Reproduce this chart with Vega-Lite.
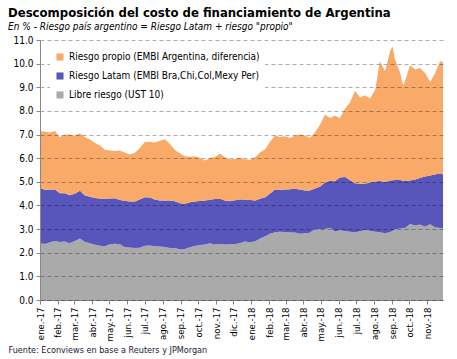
{
"$schema": "https://vega.github.io/schema/vega-lite/v6.json",
"width": 403, "height": 260,
"autosize": {"type": "none"},
"padding": {"left": 40, "top": 40, "right": 14, "bottom": 59},
"background": "white",
"title": {"text": "Descomposición del costo de financiamiento  de Argentina", "subtitle": "En % - Riesgo país argentino = Riesgo Latam + riesgo \"propio\"", "anchor": "start", "frame": "bounds", "font": "DejaVu Sans Condensed, DejaVu Sans", "fontSize": 13, "fontWeight": "bold", "color": "#000", "subtitleFont": "DejaVu Sans Condensed, DejaVu Sans", "subtitleFontSize": 10, "subtitleFontStyle": "italic", "subtitleColor": "#000", "subtitlePadding": 2, "offset": 3},
"data": {"values": [
{"fecha":"2017-01-01","libre_riesgo":2.40,"riesgo_latam":2.34,"riesgo_propio":2.41},
{"fecha":"2017-01-10","libre_riesgo":2.37,"riesgo_latam":2.28,"riesgo_propio":2.47},
{"fecha":"2017-01-18","libre_riesgo":2.44,"riesgo_latam":2.22,"riesgo_propio":2.43},
{"fecha":"2017-01-27","libre_riesgo":2.50,"riesgo_latam":2.17,"riesgo_propio":2.48},
{"fecha":"2017-02-04","libre_riesgo":2.45,"riesgo_latam":2.07,"riesgo_propio":2.37},
{"fecha":"2017-02-13","libre_riesgo":2.47,"riesgo_latam":2.05,"riesgo_propio":2.48},
{"fecha":"2017-02-21","libre_riesgo":2.40,"riesgo_latam":2.03,"riesgo_propio":2.57},
{"fecha":"2017-03-02","libre_riesgo":2.50,"riesgo_latam":2.00,"riesgo_propio":2.45},
{"fecha":"2017-03-11","libre_riesgo":2.60,"riesgo_latam":2.02,"riesgo_propio":2.44},
{"fecha":"2017-03-19","libre_riesgo":2.46,"riesgo_latam":1.97,"riesgo_propio":2.47},
{"fecha":"2017-03-28","libre_riesgo":2.40,"riesgo_latam":1.97,"riesgo_propio":2.43},
{"fecha":"2017-04-06","libre_riesgo":2.34,"riesgo_latam":1.98,"riesgo_propio":2.32},
{"fecha":"2017-04-14","libre_riesgo":2.29,"riesgo_latam":2.00,"riesgo_propio":2.26},
{"fecha":"2017-04-23","libre_riesgo":2.27,"riesgo_latam":2.01,"riesgo_propio":2.08},
{"fecha":"2017-05-02","libre_riesgo":2.36,"riesgo_latam":1.93,"riesgo_propio":2.03},
{"fecha":"2017-05-10","libre_riesgo":2.38,"riesgo_latam":1.93,"riesgo_propio":1.99},
{"fecha":"2017-05-19","libre_riesgo":2.36,"riesgo_latam":1.87,"riesgo_propio":2.10},
{"fecha":"2017-05-27","libre_riesgo":2.24,"riesgo_latam":1.96,"riesgo_propio":2.04},
{"fecha":"2017-06-05","libre_riesgo":2.22,"riesgo_latam":1.95,"riesgo_propio":1.99},
{"fecha":"2017-06-14","libre_riesgo":2.20,"riesgo_latam":1.97,"riesgo_propio":2.06},
{"fecha":"2017-06-22","libre_riesgo":2.21,"riesgo_latam":2.04,"riesgo_propio":2.17},
{"fecha":"2017-07-01","libre_riesgo":2.30,"riesgo_latam":2.05,"riesgo_propio":2.33},
{"fecha":"2017-07-10","libre_riesgo":2.31,"riesgo_latam":2.03,"riesgo_propio":2.36},
{"fecha":"2017-07-18","libre_riesgo":2.27,"riesgo_latam":1.98,"riesgo_propio":2.41},
{"fecha":"2017-07-27","libre_riesgo":2.26,"riesgo_latam":1.95,"riesgo_propio":2.53},
{"fecha":"2017-08-05","libre_riesgo":2.24,"riesgo_latam":1.97,"riesgo_propio":2.59},
{"fecha":"2017-08-13","libre_riesgo":2.20,"riesgo_latam":2.01,"riesgo_propio":2.40},
{"fecha":"2017-08-22","libre_riesgo":2.20,"riesgo_latam":1.98,"riesgo_propio":2.17},
{"fecha":"2017-08-31","libre_riesgo":2.14,"riesgo_latam":1.95,"riesgo_propio":2.11},
{"fecha":"2017-09-08","libre_riesgo":2.16,"riesgo_latam":1.91,"riesgo_propio":2.01},
{"fecha":"2017-09-17","libre_riesgo":2.23,"riesgo_latam":1.91,"riesgo_propio":1.92},
{"fecha":"2017-09-25","libre_riesgo":2.28,"riesgo_latam":1.89,"riesgo_propio":1.91},
{"fecha":"2017-10-04","libre_riesgo":2.33,"riesgo_latam":1.86,"riesgo_propio":1.83},
{"fecha":"2017-10-13","libre_riesgo":2.35,"riesgo_latam":1.86,"riesgo_propio":1.69},
{"fecha":"2017-10-21","libre_riesgo":2.40,"riesgo_latam":1.84,"riesgo_propio":1.76},
{"fecha":"2017-10-30","libre_riesgo":2.35,"riesgo_latam":1.92,"riesgo_propio":1.78},
{"fecha":"2017-11-08","libre_riesgo":2.37,"riesgo_latam":1.91,"riesgo_propio":1.92},
{"fecha":"2017-11-16","libre_riesgo":2.35,"riesgo_latam":1.86,"riesgo_propio":1.83},
{"fecha":"2017-11-25","libre_riesgo":2.36,"riesgo_latam":1.82,"riesgo_propio":1.78},
{"fecha":"2017-12-04","libre_riesgo":2.37,"riesgo_latam":1.85,"riesgo_propio":1.75},
{"fecha":"2017-12-12","libre_riesgo":2.40,"riesgo_latam":1.85,"riesgo_propio":1.77},
{"fecha":"2017-12-21","libre_riesgo":2.48,"riesgo_latam":1.77,"riesgo_propio":1.71},
{"fecha":"2017-12-30","libre_riesgo":2.44,"riesgo_latam":1.79,"riesgo_propio":1.70},
{"fecha":"2018-01-08","libre_riesgo":2.49,"riesgo_latam":1.72,"riesgo_propio":1.84},
{"fecha":"2018-01-16","libre_riesgo":2.60,"riesgo_latam":1.68,"riesgo_propio":1.96},
{"fecha":"2018-01-25","libre_riesgo":2.70,"riesgo_latam":1.65,"riesgo_propio":2.03},
{"fecha":"2018-02-02","libre_riesgo":2.80,"riesgo_latam":1.70,"riesgo_propio":2.18},
{"fecha":"2018-02-11","libre_riesgo":2.87,"riesgo_latam":1.81,"riesgo_propio":2.29},
{"fecha":"2018-02-19","libre_riesgo":2.89,"riesgo_latam":1.77,"riesgo_propio":2.24},
{"fecha":"2018-02-28","libre_riesgo":2.88,"riesgo_latam":1.79,"riesgo_propio":2.26},
{"fecha":"2018-03-09","libre_riesgo":2.86,"riesgo_latam":1.83,"riesgo_propio":2.16},
{"fecha":"2018-03-17","libre_riesgo":2.86,"riesgo_latam":1.85,"riesgo_propio":2.25},
{"fecha":"2018-03-26","libre_riesgo":2.80,"riesgo_latam":1.87,"riesgo_propio":2.33},
{"fecha":"2018-04-04","libre_riesgo":2.82,"riesgo_latam":1.81,"riesgo_propio":2.33},
{"fecha":"2018-04-12","libre_riesgo":2.85,"riesgo_latam":1.78,"riesgo_propio":2.22},
{"fecha":"2018-04-21","libre_riesgo":3.00,"riesgo_latam":1.72,"riesgo_propio":2.38},
{"fecha":"2018-04-30","libre_riesgo":2.98,"riesgo_latam":1.82,"riesgo_propio":2.62},
{"fecha":"2018-05-08","libre_riesgo":3.00,"riesgo_latam":1.97,"riesgo_propio":2.88},
{"fecha":"2018-05-17","libre_riesgo":3.06,"riesgo_latam":1.99,"riesgo_propio":2.65},
{"fecha":"2018-05-25","libre_riesgo":2.90,"riesgo_latam":2.12,"riesgo_propio":2.78},
{"fecha":"2018-06-03","libre_riesgo":2.95,"riesgo_latam":2.23,"riesgo_propio":2.52},
{"fecha":"2018-06-12","libre_riesgo":2.92,"riesgo_latam":2.28,"riesgo_propio":2.90},
{"fecha":"2018-06-20","libre_riesgo":2.89,"riesgo_latam":2.19,"riesgo_propio":3.27},
{"fecha":"2018-06-29","libre_riesgo":2.87,"riesgo_latam":2.07,"riesgo_propio":3.91},
{"fecha":"2018-07-08","libre_riesgo":2.91,"riesgo_latam":2.01,"riesgo_propio":3.64},
{"fecha":"2018-07-16","libre_riesgo":2.96,"riesgo_latam":1.96,"riesgo_propio":3.74},
{"fecha":"2018-07-25","libre_riesgo":2.93,"riesgo_latam":2.04,"riesgo_propio":3.55},
{"fecha":"2018-08-03","libre_riesgo":2.89,"riesgo_latam":2.12,"riesgo_propio":3.89},
{"fecha":"2018-08-11","libre_riesgo":2.87,"riesgo_latam":2.16,"riesgo_propio":5.07},
{"fecha":"2018-08-20","libre_riesgo":2.82,"riesgo_latam":2.17,"riesgo_propio":4.70},
{"fecha":"2018-08-29","libre_riesgo":2.88,"riesgo_latam":2.18,"riesgo_propio":5.50},
{"fecha":"2018-09-02","libre_riesgo":2.93,"riesgo_latam":2.14,"riesgo_propio":5.66},
{"fecha":"2018-09-06","libre_riesgo":2.98,"riesgo_latam":2.10,"riesgo_propio":5.12},
{"fecha":"2018-09-15","libre_riesgo":3.02,"riesgo_latam":2.06,"riesgo_propio":4.52},
{"fecha":"2018-09-20","libre_riesgo":3.04,"riesgo_latam":2.01,"riesgo_propio":4.03},
{"fecha":"2018-09-24","libre_riesgo":3.06,"riesgo_latam":1.97,"riesgo_propio":4.27},
{"fecha":"2018-10-02","libre_riesgo":3.22,"riesgo_latam":1.84,"riesgo_propio":4.87},
{"fecha":"2018-10-11","libre_riesgo":3.15,"riesgo_latam":1.95,"riesgo_propio":4.65},
{"fecha":"2018-10-19","libre_riesgo":3.19,"riesgo_latam":1.97,"riesgo_propio":4.66},
{"fecha":"2018-10-28","libre_riesgo":3.11,"riesgo_latam":2.11,"riesgo_propio":4.38},
{"fecha":"2018-11-06","libre_riesgo":3.20,"riesgo_latam":2.07,"riesgo_propio":3.95},
{"fecha":"2018-11-14","libre_riesgo":3.08,"riesgo_latam":2.23,"riesgo_propio":4.27},
{"fecha":"2018-11-23","libre_riesgo":3.05,"riesgo_latam":2.31,"riesgo_propio":4.74},
{"fecha":"2018-11-28","libre_riesgo":3.05,"riesgo_latam":2.26,"riesgo_propio":4.76}
]},
"transform": [{"fold": ["libre_riesgo", "riesgo_latam", "riesgo_propio"], "as": ["serie", "valor"]}],
"mark": {"type": "area", "interpolate": "linear"},
"encoding": {
  "x": {"field": "fecha", "type": "temporal",
    "scale": {"domain": [{"year": 2017, "month": 1, "date": 1}, {"year": 2018, "month": 11, "date": 28}], "nice": false},
    "axis": {"title": "Fuente: Econviews en base a Reuters y JPMorgan", "titleFontSize": 9, "titleFontWeight": "normal", "titleColor": "#1a1a33", "titleAnchor": "start", "titleAlign": "left", "titleX": -32, "titleY": 52, "titleBaseline": "alphabetic",
      "tickCount": {"interval": "month", "step": 1}, "labelAngle": -90, "labelAlign": "right", "labelBaseline": "middle", "labelOverlap": false, "labelFlush": false, "labelPadding": 3, "labelFontSize": 9.5,
      "labelExpr": "['ene','feb','mar','abr','may','jun','jul','ago','sep','oct','nov','dic'][month(datum.value)] + '.-' + timeFormat(datum.value, '%y')",
      "grid": false, "tickSize": 4, "domainColor": "#888", "tickColor": "#888"}},
  "y": {"field": "valor", "type": "quantitative", "stack": "zero",
    "scale": {"domain": [0, 11], "nice": false},
    "axis": {"title": null, "values": [0,1,2,3,4,5,6,7,8,9,10,11], "format": ".1f", "labelFontSize": 10, "labelPadding": 3,
      "grid": true, "gridDash": [4, 3], "gridColor": "#000", "gridOpacity": 0.4, "gridWidth": 0.8, "zindex": 1,
      "tickSize": 4, "domainColor": "#888", "tickColor": "#888"}},
  "color": {"field": "serie", "type": "nominal",
    "scale": {"domain": ["riesgo_propio", "riesgo_latam", "libre_riesgo"], "range": ["#F9A968", "#5856BA", "#AAAAAA"]},
    "legend": {"title": null, "orient": "none", "legendX": 10, "legendY": 7, "fillColor": "white", "padding": 5, "symbolType": "square", "symbolSize": 50, "symbolStrokeWidth": 0, "symbolOpacity": 1, "labelFontSize": 10, "labelLimit": 400, "rowPadding": 9, "zindex": 1,
      "labelExpr": "datum.value == 'riesgo_propio' ? 'Riesgo propio (EMBI Argentina, diferencia)' : datum.value == 'riesgo_latam' ? 'Riesgo Latam (EMBI Bra,Chi,Col,Mexy Per)' : 'Libre riesgo (UST 10)'"}},
  "order": {"field": "serie", "sort": "ascending"}
},
"config": {
  "view": {"stroke": null},
  "font": "DejaVu Sans Condensed, DejaVu Sans",
  "axis": {"labelFont": "DejaVu Sans Condensed, DejaVu Sans", "titleFont": "DejaVu Sans Condensed, DejaVu Sans", "labelColor": "#000"},
  "legend": {"labelFont": "DejaVu Sans Condensed, DejaVu Sans", "labelColor": "#000"}
}
}
